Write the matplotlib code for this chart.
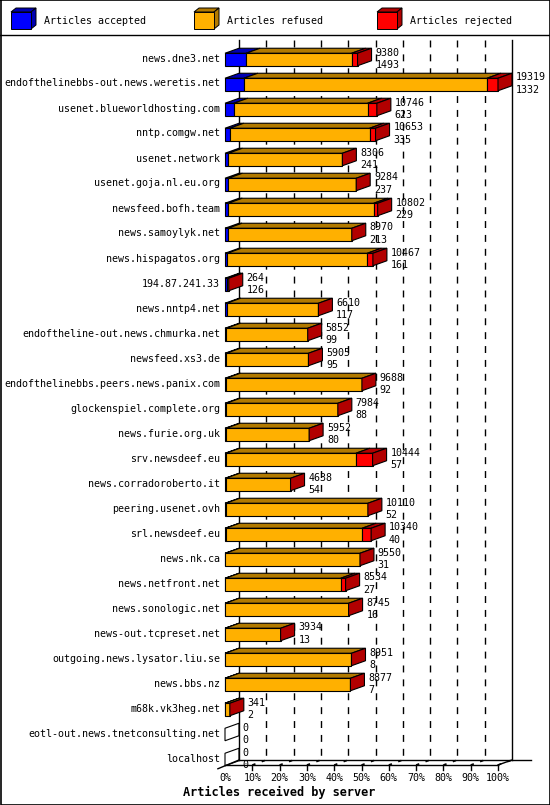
import matplotlib
matplotlib.use("Agg")
import matplotlib.pyplot as plt
from matplotlib.patches import Polygon

# data (top number = offered, bottom = accepted)
servers = [
    "news.dne3.net", "endofthelinebbs-out.news.weretis.net",
    "usenet.blueworldhosting.com", "nntp.comgw.net", "usenet.network",
    "usenet.goja.nl.eu.org", "newsfeed.bofh.team", "news.samoylyk.net",
    "news.hispagatos.org", "194.87.241.33", "news.nntp4.net",
    "endoftheline-out.news.chmurka.net", "newsfeed.xs3.de",
    "endofthelinebbs.peers.news.panix.com", "glockenspiel.complete.org",
    "news.furie.org.uk", "srv.newsdeef.eu", "news.corradoroberto.it",
    "peering.usenet.ovh", "srl.newsdeef.eu", "news.nk.ca",
    "news.netfront.net", "news.sonologic.net", "news-out.tcpreset.net",
    "outgoing.news.lysator.liu.se", "news.bbs.nz", "m68k.vk3heg.net",
    "eotl-out.news.tnetconsulting.net", "localhost",
]
total = [9380, 19319, 10746, 10653, 8306, 9284, 10802, 8970, 10467, 264,
         6610, 5852, 5905, 9688, 7984, 5952, 10444, 4638, 10110, 10340,
         9550, 8534, 8745, 3934, 8951, 8877, 341, 0, 0]
accepted = [1493, 1332, 623, 335, 241, 237, 229, 213, 161, 126,
            117, 99, 95, 92, 88, 80, 57, 54, 52, 40,
            31, 27, 16, 13, 8, 7, 2, 0, 0]
refused = [7462, 17207, 9463, 9893, 8065, 9047, 10293, 8757, 9906, 138,
           6493, 5753, 5810, 9596, 7896, 5872, 9207, 4584, 10058, 9660,
           9519, 8157, 8729, 3921, 8943, 8870, 339, 0, 0]
rejected = [425, 780, 660, 425, 0, 0, 280, 0, 400, 0,
            0, 0, 0, 0, 0, 0, 1180, 0, 0, 640,
            0, 350, 0, 0, 0, 0, 0, 0, 0]
legend_labels = ["Articles accepted", "Articles refused", "Articles rejected"]
ticks = list(range(0, 101, 10))

colors = ["#0000FF", "#FFB000", "#FF0000"]
darks = ["#0000B2", "#B27A00", "#B20000"]
MONO = "DejaVu Sans Mono"
W, H = 550, 805

fig = plt.figure(figsize=(W / 100, H / 100), dpi=100)

# overlay in pixel coords for frame + legend
bg = fig.add_axes([0, 0, 1, 1])
bg.set_xlim(0, W)
bg.set_ylim(H, 0)
bg.axis("off")
bg.plot([0.5, W - 0.5, W - 0.5, 0.5, 0.5], [0.5, 0.5, H - 0.5, H - 0.5, 0.5],
        color="black", lw=1.2)
bg.plot([0, W], [35, 35], color="black", lw=1)

leg_x = [11, 194, 377]
for lx, lab, c, d in zip(leg_x, legend_labels, colors, darks):
    x0, x1, y0, y1, ddx, ddy = lx, lx + 20, 12, 29, 5, -4
    bg.add_patch(Polygon([(x0, y0), (x1, y0), (x1 + ddx, y0 + ddy), (x0 + ddx, y0 + ddy)],
                         fc=d, ec="black", lw=0.7))
    bg.add_patch(Polygon([(x1, y0), (x1, y1), (x1 + ddx, y1 + ddy), (x1 + ddx, y0 + ddy)],
                         fc=d, ec="black", lw=0.7))
    bg.add_patch(Polygon([(x0, y0), (x1, y0), (x1, y1), (x0, y1)],
                         fc=c, ec="black", lw=0.7))
    bg.text(x1 + 13, 20.5, lab, fontsize=7.2, family=MONO, va="center", ha="left")

# main chart: x in percent of biggest server, y in row index
n = len(servers)
ax = fig.add_axes([225 / W, 1 - 765 / H, 273 / W, 725 / H])
ybot = n - 1 + 0.25 - 0.03
ytop = -0.78
ax.set_xlim(0, 100)
ax.set_ylim(ybot, ytop)
ax.axis("off")

dx = 14 / 2.73      # depth offset in percent
dy = 5 / 25         # depth offset in rows
hh = 0.25           # half bar height
vmax = max(total)

# back wall
ax.plot([dx, dx], [ytop, ybot - dy], color="black", lw=1, zorder=1, clip_on=False)
ax.plot([100 + dx, 100 + dx], [ytop, ybot - dy], color="black", lw=1, zorder=1, clip_on=False)
for t in ticks[1:-1]:
    ax.plot([t + dx, t + dx], [ytop, ybot - dy], color="black", lw=1,
            ls=(0, (5, 5)), zorder=1, clip_on=False)

# floor
ax.plot([0, 100], [ybot, ybot], color="black", lw=1, clip_on=False)
ax.plot([100, 100 + dx], [ybot, ybot - dy], color="black", lw=1, clip_on=False)
ax.plot([dx, 100 + dx + 7], [ybot - dy, ybot - dy], color="black", lw=1, clip_on=False)
ax.plot([-2.6, dx], [ybot + 0.15, ybot - dy], color="black", lw=1, clip_on=False)
for t in ticks:
    if t > 0:
        ax.plot([t, t], [ybot, ybot + 0.22], color="black", lw=1, clip_on=False)
        ax.plot([t, t + dx], [ybot, ybot - dy], color="black", lw=1.2,
                ls=(0, (2, 4)), clip_on=False)
    ax.text(t, ybot + 0.5, f"{t}%", fontsize=7.2, family=MONO,
            ha="center", va="center", clip_on=False)

for i in range(n):
    parts = [accepted[i], refused[i], rejected[i]]
    yt, yb = i - hh, i + hh
    x = 0.0
    for v, c, d in zip(parts, colors, darks):
        w = v / vmax * 100
        if w <= 0:
            continue
        ax.add_patch(Polygon([(x, yt), (x + w, yt), (x + w + dx, yt - dy), (x + dx, yt - dy)],
                             fc=d, ec="black", lw=0.8, zorder=3, clip_on=False))
        ax.add_patch(Polygon([(x, yt), (x + w, yt), (x + w, yb), (x, yb)],
                             fc=c, ec="black", lw=0.8, zorder=3, clip_on=False))
        x += w
    ax.add_patch(Polygon([(x, yt), (x, yb), (x + dx, yb - dy), (x + dx, yt - dy)],
                         fc=darks[2] if total[i] > 0 else "none",
                         ec="black", lw=0.8, zorder=3, clip_on=False))
    ax.text(-1.8, i - 0.04, servers[i], fontsize=7.2, family=MONO,
            ha="right", va="center", clip_on=False)
    ax.text(x + dx + 1.4, i - 0.28, str(total[i]), fontsize=7.2, family=MONO,
            ha="left", va="center", zorder=4, clip_on=False)
    ax.text(x + dx + 1.4, i + 0.22, str(accepted[i]), fontsize=7.2, family=MONO,
            ha="left", va="center", zorder=4, clip_on=False)

fig.text(279 / W, 1 - 792 / H, "Articles received by server", fontsize=8.6,
         family=MONO, weight="bold", ha="center", va="center")

fig.savefig("out.png", dpi=100)
